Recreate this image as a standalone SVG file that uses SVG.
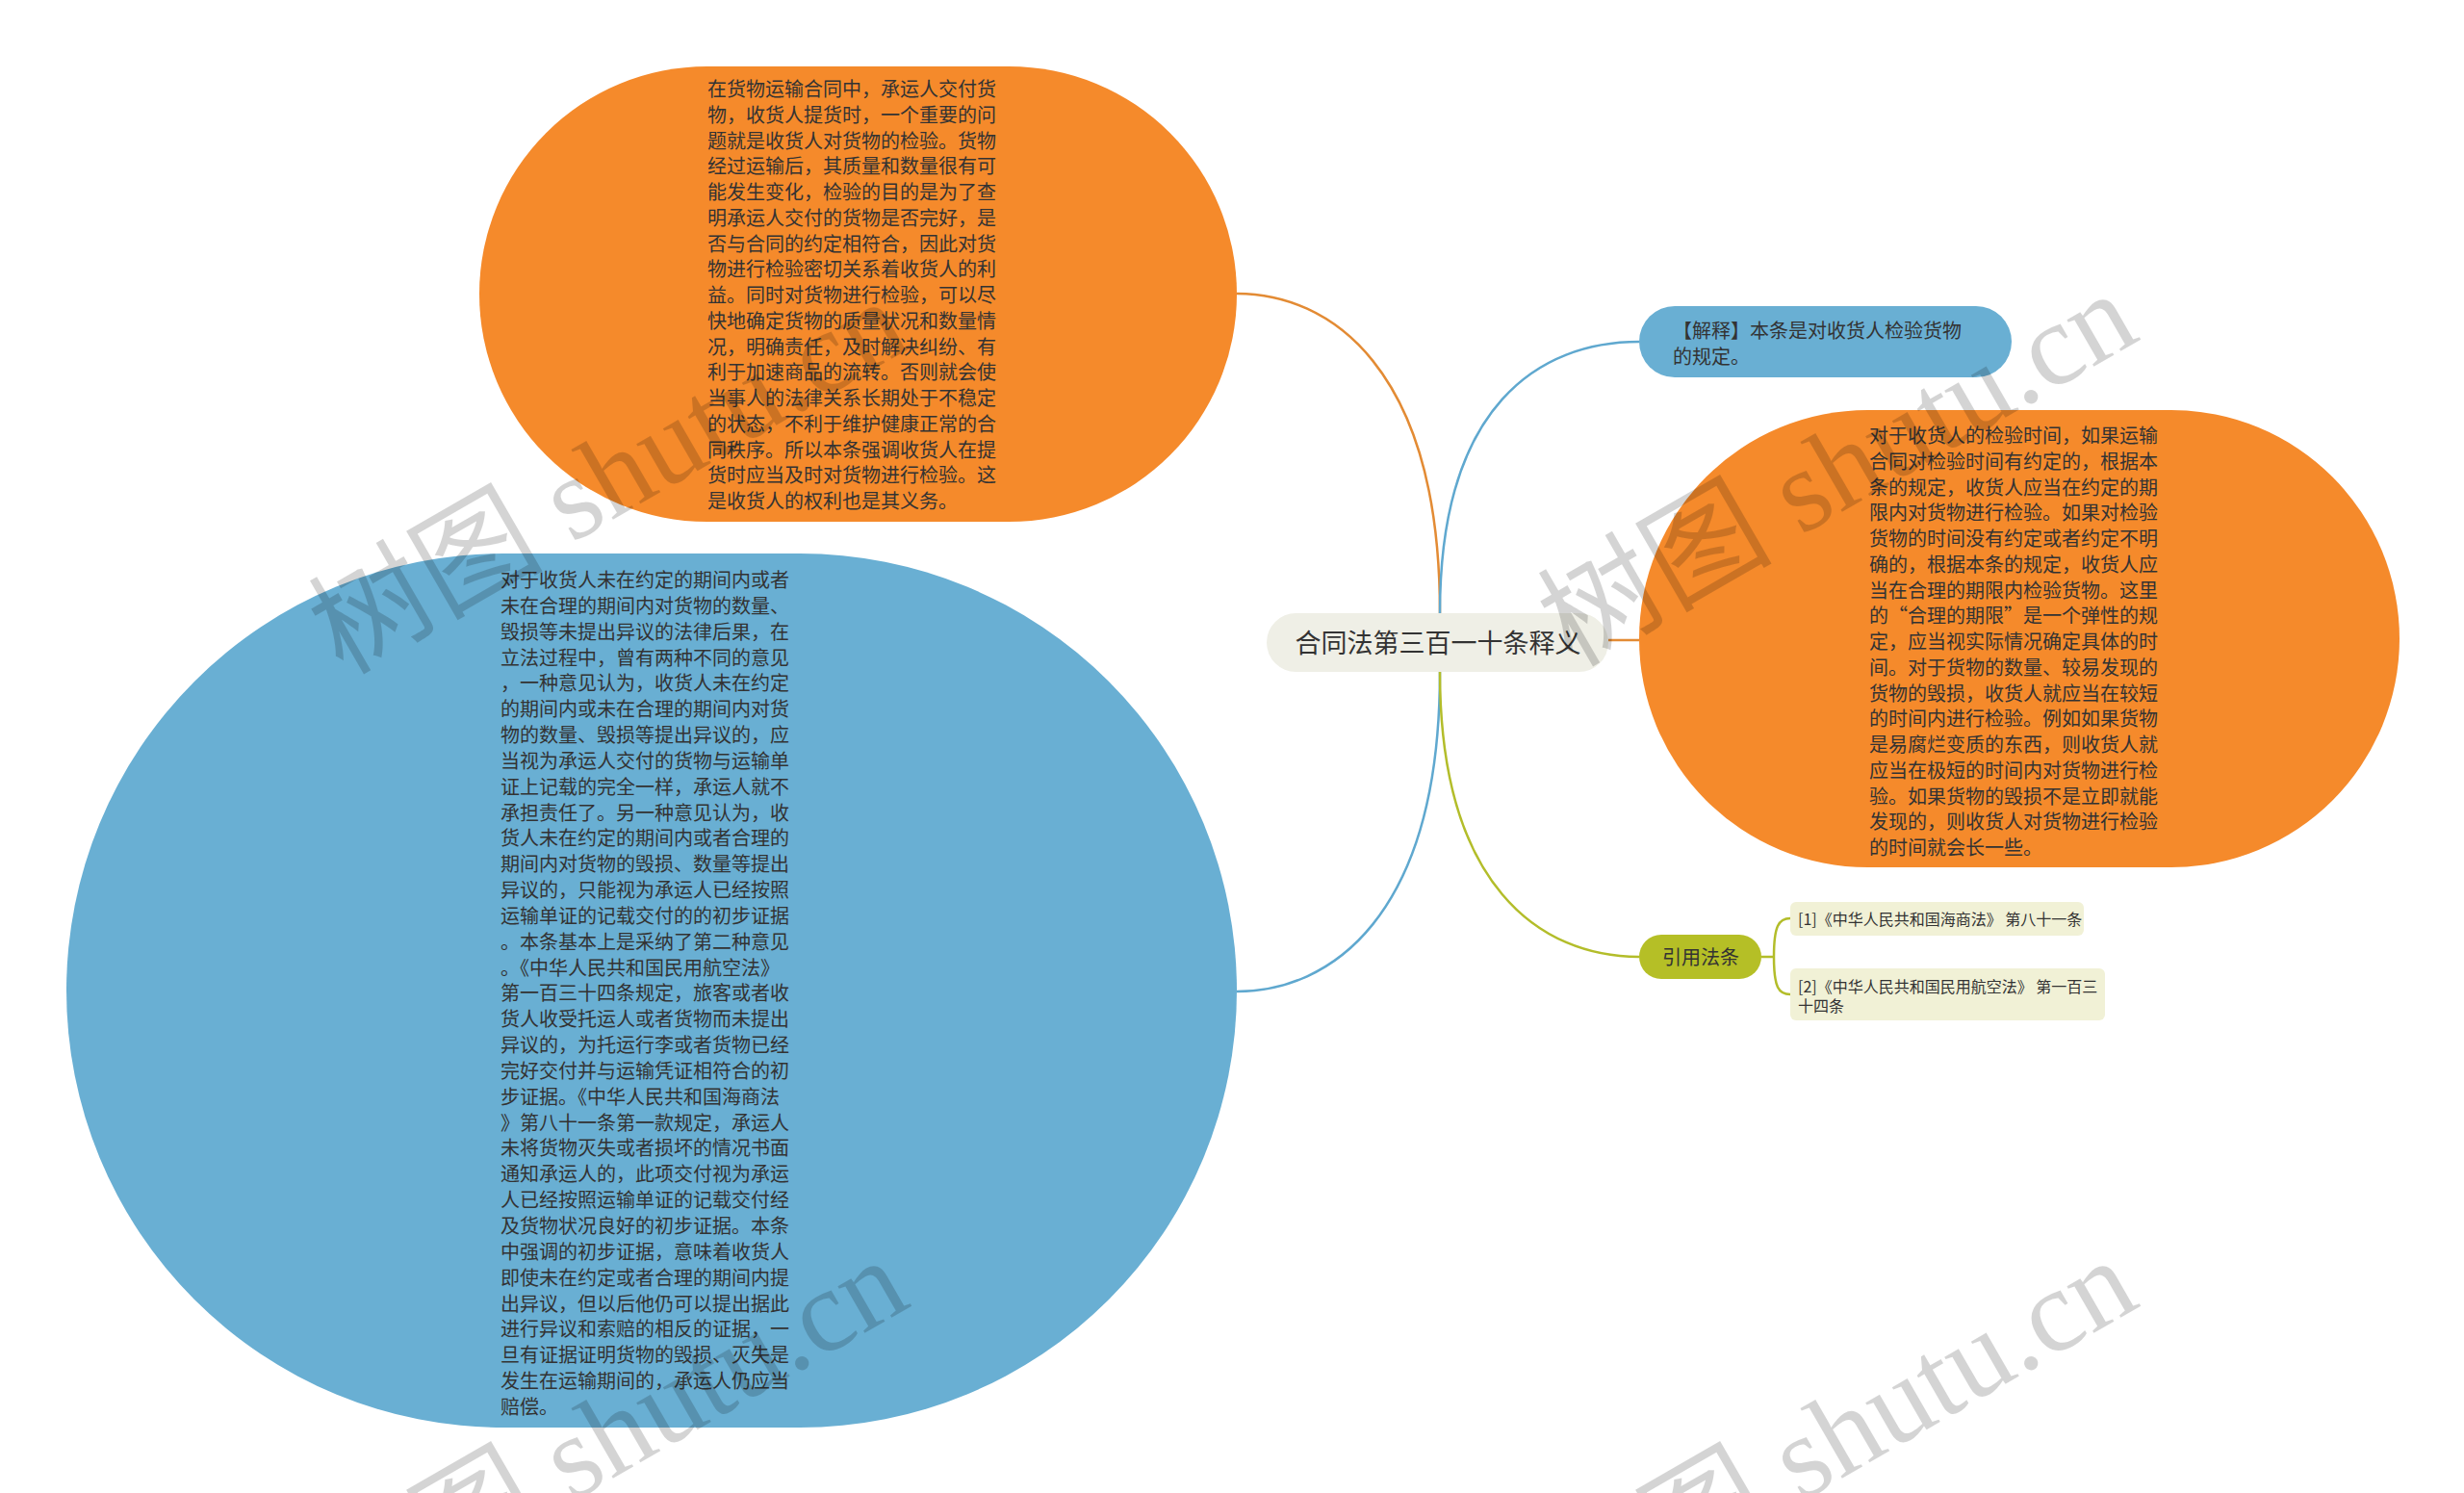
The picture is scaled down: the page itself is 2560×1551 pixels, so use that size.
<svg xmlns="http://www.w3.org/2000/svg" width="2560" height="1551" viewBox="0 0 2560 1551">
<style>
.t{font-family:"Noto Sans CJK SC","Noto Sans",sans-serif;fill:#333333}
.body{font-size:20px}
.conn{fill:none;stroke-width:2.5}
.orange{fill:#F58A2B}
.blue{fill:#69AFD3}
.wm{font-family:"Liberation Serif","Noto Sans CJK SC",serif;font-size:122px;fill:#000000;fill-opacity:0.17}
</style>
<rect width="2560" height="1551" fill="#FFFFFF"/>
<g id="connectors">
<path class="conn" stroke="#E38B34" d="M1496 637 C1496 380 1380 305 1285 305"/>
<path class="conn" stroke="#5FA8CF" d="M1496 637 C1496 420 1600 355 1703 355"/>
<path class="conn" stroke="#E38B34" d="M1671 665 L1703 665"/>
<path class="conn" stroke="#5FA8CF" d="M1496 698 C1496 955 1380 1030 1285 1030"/>
<path class="conn" stroke="#B3BD2A" d="M1496 698 C1496 920 1600 994 1703 994"/>
<path class="conn" stroke="#B3BD2A" d="M1830 994 L1843 994 M1843 994 C1843 962 1848 954 1860 954 M1843 994 C1843 1026 1848 1033 1860 1033"/>
</g>
<g id="node-top">
<rect class="orange" x="498" y="69" width="787" height="473" rx="236.5"/>
<text class="t body">
<tspan x="735" y="100">在货物运输合同中，承运人交付货</tspan>
<tspan x="735" y="126.75">物，收货人提货时，一个重要的问</tspan>
<tspan x="735" y="153.5">题就是收货人对货物的检验。货物</tspan>
<tspan x="735" y="180.25">经过运输后，其质量和数量很有可</tspan>
<tspan x="735" y="207">能发生变化，检验的目的是为了查</tspan>
<tspan x="735" y="233.75">明承运人交付的货物是否完好，是</tspan>
<tspan x="735" y="260.5">否与合同的约定相符合，因此对货</tspan>
<tspan x="735" y="287.25">物进行检验密切关系着收货人的利</tspan>
<tspan x="735" y="314">益。同时对货物进行检验，可以尽</tspan>
<tspan x="735" y="340.75">快地确定货物的质量状况和数量情</tspan>
<tspan x="735" y="367.5">况，明确责任，及时解决纠纷、有</tspan>
<tspan x="735" y="394.25">利于加速商品的流转。否则就会使</tspan>
<tspan x="735" y="421">当事人的法律关系长期处于不稳定</tspan>
<tspan x="735" y="447.75">的状态，不利于维护健康正常的合</tspan>
<tspan x="735" y="474.5">同秩序。所以本条强调收货人在提</tspan>
<tspan x="735" y="501.25">货时应当及时对货物进行检验。这</tspan>
<tspan x="735" y="528">是收货人的权利也是其义务。</tspan>
</text>
</g>
<g id="node-left">
<rect class="blue" x="69" y="575" width="1216" height="908" rx="454"/>
<text class="t body">
<tspan x="520" y="610">对于收货人未在约定的期间内或者</tspan>
<tspan x="520" y="636.84">未在合理的期间内对货物的数量、</tspan>
<tspan x="520" y="663.68">毁损等未提出异议的法律后果，在</tspan>
<tspan x="520" y="690.52">立法过程中，曾有两种不同的意见</tspan>
<tspan x="520" y="717.36">，一种意见认为，收货人未在约定</tspan>
<tspan x="520" y="744.2">的期间内或未在合理的期间内对货</tspan>
<tspan x="520" y="771.04">物的数量、毁损等提出异议的，应</tspan>
<tspan x="520" y="797.88">当视为承运人交付的货物与运输单</tspan>
<tspan x="520" y="824.72">证上记载的完全一样，承运人就不</tspan>
<tspan x="520" y="851.56">承担责任了。另一种意见认为，收</tspan>
<tspan x="520" y="878.4">货人未在约定的期间内或者合理的</tspan>
<tspan x="520" y="905.24">期间内对货物的毁损、数量等提出</tspan>
<tspan x="520" y="932.08">异议的，只能视为承运人已经按照</tspan>
<tspan x="520" y="958.92">运输单证的记载交付的的初步证据</tspan>
<tspan x="520" y="985.76">。本条基本上是采纳了第二种意见</tspan>
<tspan x="520" y="1012.6">。《中华人民共和国民用航空法》</tspan>
<tspan x="520" y="1039.44">第一百三十四条规定，旅客或者收</tspan>
<tspan x="520" y="1066.28">货人收受托运人或者货物而未提出</tspan>
<tspan x="520" y="1093.12">异议的，为托运行李或者货物已经</tspan>
<tspan x="520" y="1119.96">完好交付并与运输凭证相符合的初</tspan>
<tspan x="520" y="1146.8">步证据。《中华人民共和国海商法</tspan>
<tspan x="520" y="1173.64">》第八十一条第一款规定，承运人</tspan>
<tspan x="520" y="1200.48">未将货物灭失或者损坏的情况书面</tspan>
<tspan x="520" y="1227.32">通知承运人的，此项交付视为承运</tspan>
<tspan x="520" y="1254.16">人已经按照运输单证的记载交付经</tspan>
<tspan x="520" y="1281">及货物状况良好的初步证据。本条</tspan>
<tspan x="520" y="1307.84">中强调的初步证据，意味着收货人</tspan>
<tspan x="520" y="1334.68">即使未在约定或者合理的期间内提</tspan>
<tspan x="520" y="1361.52">出异议，但以后他仍可以提出据此</tspan>
<tspan x="520" y="1388.36">进行异议和索赔的相反的证据，一</tspan>
<tspan x="520" y="1415.2">旦有证据证明货物的毁损、灭失是</tspan>
<tspan x="520" y="1442.04">发生在运输期间的，承运人仍应当</tspan>
<tspan x="520" y="1468.88">赔偿。</tspan>
</text>
</g>
<g id="node-root">
<rect x="1316" y="637" width="355" height="61" rx="30.5" fill="#EFEFE6"/>
<text class="t" x="1494" y="678" font-size="27" text-anchor="middle">合同法第三百一十条释义</text>
</g>
<g id="node-explain">
<rect class="blue" x="1703" y="318" width="387" height="74" rx="37"/>
<text class="t" font-size="20">
<tspan x="1738" y="351">【解释】本条是对收货人检验货物</tspan>
<tspan x="1738" y="378">的规定。</tspan>
</text>
</g>
<g id="node-right">
<rect class="orange" x="1703" y="426" width="790" height="475" rx="237.5"/>
<text class="t body">
<tspan x="1942" y="460">对于收货人的检验时间，如果运输</tspan>
<tspan x="1942" y="486.75">合同对检验时间有约定的，根据本</tspan>
<tspan x="1942" y="513.5">条的规定，收货人应当在约定的期</tspan>
<tspan x="1942" y="540.25">限内对货物进行检验。如果对检验</tspan>
<tspan x="1942" y="567">货物的时间没有约定或者约定不明</tspan>
<tspan x="1942" y="593.75">确的，根据本条的规定，收货人应</tspan>
<tspan x="1942" y="620.5">当在合理的期限内检验货物。这里</tspan>
<tspan x="1942" y="647.25">的“合理的期限”是一个弹性的规</tspan>
<tspan x="1942" y="674">定，应当视实际情况确定具体的时</tspan>
<tspan x="1942" y="700.75">间。对于货物的数量、较易发现的</tspan>
<tspan x="1942" y="727.5">货物的毁损，收货人就应当在较短</tspan>
<tspan x="1942" y="754.25">的时间内进行检验。例如如果货物</tspan>
<tspan x="1942" y="781">是易腐烂变质的东西，则收货人就</tspan>
<tspan x="1942" y="807.75">应当在极短的时间内对货物进行检</tspan>
<tspan x="1942" y="834.5">验。如果货物的毁损不是立即就能</tspan>
<tspan x="1942" y="861.25">发现的，则收货人对货物进行检验</tspan>
<tspan x="1942" y="888">的时间就会长一些。</tspan>
</text>
</g>
<g id="node-cite">
<rect x="1703" y="971" width="127" height="46" rx="23" fill="#B5BF26"/>
<text class="t" x="1767" y="1002" font-size="20" text-anchor="middle">引用法条</text>
</g>
<g id="node-cite-1">
<rect x="1860" y="937" width="305" height="35" rx="6" fill="#F1F1D6"/>
<text class="t" x="1868" y="961" font-size="16">[1]《中华人民共和国海商法》 第八十一条</text>
</g>
<g id="node-cite-2">
<rect x="1860" y="1006" width="327" height="54" rx="6" fill="#F1F1D6"/>
<text class="t" font-size="16">
<tspan x="1868" y="1031">[2]《中华人民共和国民用航空法》 第一百三</tspan>
<tspan x="1868" y="1051">十四条</tspan>
</text>
</g>
<g id="watermarks">
<text class="wm" transform="translate(356 702) rotate(-30)">树图 shutu.cn</text>
<text class="wm" transform="translate(1633 694) rotate(-30)">树图 shutu.cn</text>
<text class="wm" transform="translate(356 1698) rotate(-30)">树图 shutu.cn</text>
<text class="wm" transform="translate(1633 1698) rotate(-30)">树图 shutu.cn</text>
</g>
</svg>
